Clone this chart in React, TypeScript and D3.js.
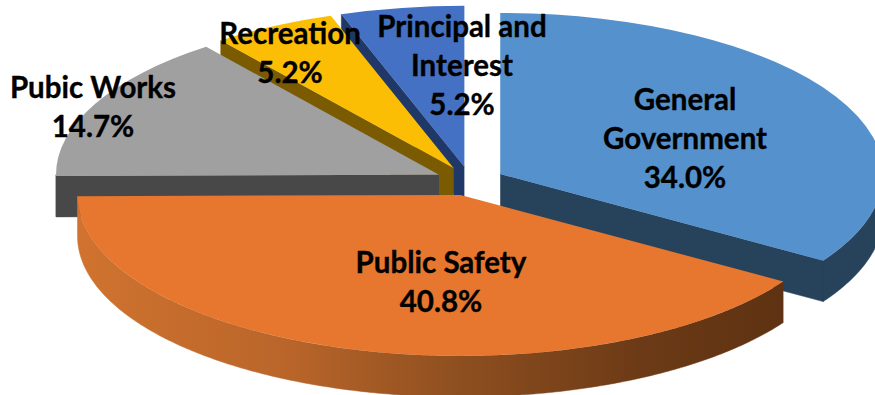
import React from "react";
import * as d3 from "d3";

// Budget shares by function, in percent
const categories = ["General Government", "Public Safety", "Pubic Works", "Recreation", "Principal and Interest"];
const shares = [34.0, 40.8, 14.7, 5.2, 5.2];

// Text of each data label, one entry per line above the percentage
const labelLines = [["General", "Government"], ["Public Safety"], ["Pubic Works"], ["Recreation"], ["Principal and", "Interest"]];

const topColors = ["#5592cd", "#e7762e", "#a0a0a0", "#fcbe05", "#4471c3"];
const wallColors = ["#27435b", "url(#safetyWall)", "#484848", "#7a5b02", "#1f3868"];

const WIDTH = 875;
const HEIGHT = 395;
const CENTER: [number, number] = [470, 181];
const RX = 383;
const RY = 161;
const DEPTH = 41;
const EXPLODE = 0.09;
const HALF = Math.PI / 2;
const TAU = Math.PI * 2;

// Label placement: centre x and the baseline of the first line
const labelAnchors: [number, number][] = [
  [685, 110],
  [441, 273],
  [93, 98],
  [290, 44],
  [462, 37],
];
const LINE_HEIGHT = 39;

const pieAngles = d3.pie<number>().sort(null).startAngle(0).endAngle(TAU)(shares);
const unitArc = d3.arc<d3.PieArcDatum<number>>().innerRadius(0).outerRadius(1);
const polygon = d3.line<[number, number]>();
// Back-to-front painting order around the tilted disc
const paintOrder = [4, 3, 2, 0, 1];

const rim = (apex: [number, number], theta: number): [number, number] => [
  apex[0] + RX * Math.sin(theta),
  apex[1] - RY * Math.cos(theta),
];

const drop = (p: [number, number]): [number, number] => [p[0], p[1] + DEPTH];

function Wedge({ index }: { index: number }) {
  const slice = pieAngles[index];
  const mid = (slice.startAngle + slice.endAngle) / 2;
  const apex: [number, number] = [
    CENTER[0] + RX * EXPLODE * Math.sin(mid),
    CENTER[1] - RY * EXPLODE * Math.cos(mid),
  ];
  const walls: string[] = [];
  // A cut face shows when it looks toward the viewer
  if (slice.startAngle > Math.PI) {
    const p = rim(apex, slice.startAngle);
    walls.push(polygon([apex, p, drop(p), drop(apex)])!);
  }
  if (slice.endAngle < Math.PI) {
    const p = rim(apex, slice.endAngle);
    walls.push(polygon([apex, p, drop(p), drop(apex)])!);
  }
  // Outer curved wall covers the near half of the ellipse only
  const from = Math.max(slice.startAngle, HALF);
  const to = Math.min(slice.endAngle, Math.PI * 1.5);
  if (to > from) {
    const thetas = [...d3.range(from, to, 0.01), to];
    const upper = thetas.map((t) => rim(apex, t));
    walls.push(polygon([...upper, ...upper.map(drop).reverse()])!);
  }
  return (
    <g>
      {/* One path for all walls, so no seam shows where they meet */}
      <path d={walls.join("")} fill={wallColors[index]} fillRule="nonzero" stroke={wallColors[index]} strokeWidth={0.5} />
      <path
        d={unitArc(slice)!}
        fill={topColors[index]}
        transform={`translate(${apex[0]},${apex[1]}) scale(${RX},${RY})`}
      />
    </g>
  );
}

export default function App() {
  return (
    <svg
      width={WIDTH}
      height={HEIGHT}
      viewBox={`0 0 ${WIDTH} ${HEIGHT}`}
      style={{ position: "absolute", left: 0, top: 0, background: "#fff" }}
    >
      <defs>
        <linearGradient id="safetyWall" gradientUnits="userSpaceOnUse" x1={77} y1={0} x2={783} y2={0}>
          <stop offset="0" stopColor="#d0732f" />
          <stop offset="0.3" stopColor="#b9652a" />
          <stop offset="0.55" stopColor="#8c4e1f" />
          <stop offset="0.8" stopColor="#6c3a16" />
          <stop offset="1" stopColor="#5e3212" />
        </linearGradient>
      </defs>
      {paintOrder.map((i) => (
        <Wedge key={categories[i]} index={i} />
      ))}
      <g
        fontFamily="Lato, sans-serif"
        fontWeight={700}
        fontSize={29.5}
        fill="#000"
        stroke="#000"
        strokeWidth={0.35}
        textAnchor="middle"
      >
        {labelLines.map((lines, i) => {
          const [x, y] = labelAnchors[i];
          return (
            <text key={categories[i]} x={x} y={y}>
              {lines.map((line) => (
                <tspan key={line} x={x} dy={line === lines[0] ? 0 : LINE_HEIGHT}>
                  {line}
                </tspan>
              ))}
              <tspan x={x} dy={LINE_HEIGHT}>
                {shares[i].toFixed(1)}%
              </tspan>
            </text>
          );
        })}
      </g>
    </svg>
  );
}
